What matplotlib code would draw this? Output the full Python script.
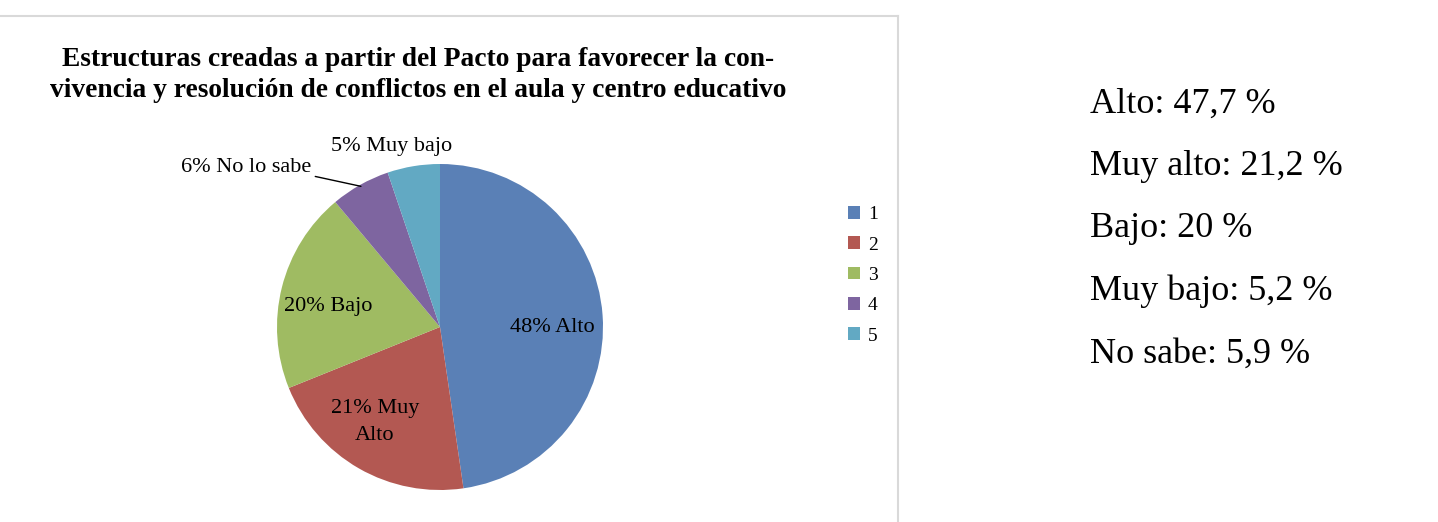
"""
Pie chart: estructuras creadas a partir del Pacto (convivencia),
with the summary percentages listed on the right.
"""

import numpy as np
import matplotlib.pyplot as plt
from matplotlib.lines import Line2D
from matplotlib.patches import Patch


# data
legend_labels = ["1", "2", "3", "4", "5"]
slice_labels = ["48% Alto", "21% Muy\nAlto", "20% Bajo", "6% No lo sabe", "5% Muy bajo"]
values = [47.7, 21.2, 20.0, 5.9, 5.2]
summary_lines = [
    "Alto: 47,7 %",
    "Muy alto: 21,2 %",
    "Bajo: 20 %",
    "Muy bajo: 5,2 %",
    "No sabe: 5,9 %",
]

COLORS = ["#5a80b6", "#b35852", "#9fbb62", "#7e65a0", "#62a9c3"]
TITLE = ("Estructuras creadas a partir del Pacto para favorecer la con-\n"
         "vivencia y resolución de conflictos en el aula y centro educativo")

W, H = 1438, 522
SERIF = ["Liberation Serif", "DejaVu Serif"]

# pie geometry in pixels (top-left origin)
CX, CY, R = 440, 327, 163
# label centres, in pixels
LABEL_PX = [(552, 327), (375, 422), (328, 307), (246, 167), (392, 146)]
LEADER = 3  # slice whose label sits outside with a leader line


def px_box(x0, y0, x1, y1):
    """Pixel box (top-left origin) to figure fraction rect."""
    return [x0 / W, 1 - y1 / H, (x1 - x0) / W, (y1 - y0) / H]


def main():
    fig = plt.figure(figsize=(W / 100, H / 100), dpi=100)
    fig.patch.set_facecolor("white")

    # chart frame: top edge and right edge
    frame_kw = dict(color="#d9d9d9", linewidth=1.5, transform=fig.transFigure)
    fig.add_artist(Line2D([0, 898 / W], [1 - 16 / H, 1 - 16 / H], **frame_kw))
    fig.add_artist(Line2D([898 / W, 898 / W], [1 - 16 / H, 0], **frame_kw))

    fig.text(418 / W, 1 - 75 / H, TITLE, ha="center", va="center",
             fontsize=19.8, fontweight="bold", family=SERIF, linespacing=1.3)

    ax = fig.add_axes(px_box(CX - R, CY - R, CX + R, CY + R))
    wedges, _ = ax.pie(values, colors=COLORS, startangle=90, counterclock=False,
                       radius=1, wedgeprops=dict(linewidth=0))
    ax.set_xlim(-1, 1)
    ax.set_ylim(-1, 1)
    ax.axis("off")

    for i, w in enumerate(wedges):
        lx = (LABEL_PX[i][0] - CX) / R
        ly = (CY - LABEL_PX[i][1]) / R
        if i == LEADER:
            mid = np.deg2rad((w.theta1 + w.theta2) / 2)
            ax.annotate(slice_labels[i], xy=(0.99 * np.cos(mid), 0.99 * np.sin(mid)),
                        xytext=(lx, ly), ha="center", va="center",
                        fontsize=16, family=SERIF, annotation_clip=False,
                        arrowprops=dict(arrowstyle="-", color="black", lw=1,
                                        relpos=(1.0, 0.05), shrinkA=1, shrinkB=0))
        else:
            ax.text(lx, ly, slice_labels[i], ha="center", va="center",
                    fontsize=16, family=SERIF, linespacing=1.5, clip_on=False)

    handles = [Patch(facecolor=c, edgecolor="none") for c in COLORS]
    fig.legend(handles, legend_labels, loc="upper left",
               bbox_to_anchor=(848 / W, 1 - 206 / H), frameon=False,
               prop=dict(family=SERIF, size=14), handlelength=0.62,
               handleheight=0.62, handletextpad=0.4, labelspacing=0.68,
               borderaxespad=0, borderpad=0)

    for i, line in enumerate(summary_lines):
        fig.text(1090 / W, 1 - (104 + i * 62.5) / H, line, ha="left",
                 va="center", fontsize=26, family=SERIF)

    fig.savefig("out.png", dpi=100)
    plt.close(fig)


if __name__ == "__main__":
    main()
